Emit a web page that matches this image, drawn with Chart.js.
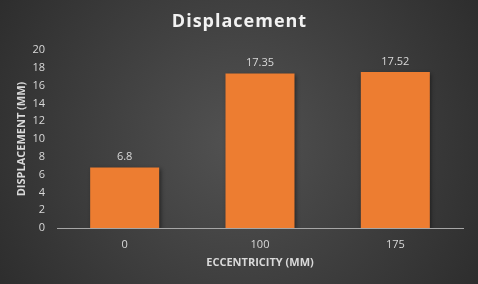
<!DOCTYPE html>
<html>
<head>
<meta charset="utf-8">
<script src="https://cdn.jsdelivr.net/npm/chart.js@4/dist/chart.umd.min.js"></script>
<style>
html,body{margin:0;padding:0;background:#404040;}
#wrap{width:478px;height:284px;position:relative;}
</style>
</head>
<body>
<div id="wrap"><canvas id="c" width="478" height="284"></canvas></div>
<script>
const categories = ['0', '100', '175'];
const displacement = [6.8, 17.35, 17.52];
const valueLabels = ['6.8', '17.35', '17.52'];
const chartTitle = 'Displacement';
const xTitle = 'ECCENTRICITY (MM)';
const yTitle = 'DISPLACEMENT (MM)';

const FONT = "'Open Sans', 'Noto Sans', sans-serif";

const bgPlugin = {
  id: 'bg',
  beforeDraw(chart) {
    const ctx = chart.ctx;
    const w = chart.width, h = chart.height;
    ctx.save();
    const g = ctx.createRadialGradient(w/2, h/2, 0, w/2, h/2, w*0.62);
    g.addColorStop(0, '#525252');
    g.addColorStop(1, '#2b2b2b');
    ctx.fillStyle = g;
    ctx.fillRect(0, 0, w, h);
    ctx.restore();
  },
  afterDraw(chart) {
    const ctx = chart.ctx;
    ctx.save();
    ctx.fillStyle = '#f2f2f2';
    ctx.font = "bold 18px " + FONT;
    try { ctx.letterSpacing = '1px'; } catch (e) {}
    ctx.textAlign = 'center';
    ctx.textBaseline = 'middle';
    ctx.fillText(chartTitle, chart.width / 2 + 0.5, 22);
    ctx.restore();
  }
};

const shadowPlugin = {
  id: 'barShadow',
  beforeDatasetsDraw(chart) {
    const ctx = chart.ctx;
    ctx.save();
    ctx.shadowColor = 'rgba(0,0,0,0.45)';
    ctx.shadowBlur = 4;
    ctx.shadowOffsetX = 1.5;
    ctx.shadowOffsetY = 1.5;
  },
  afterDatasetsDraw(chart) {
    chart.ctx.restore();
    const ctx = chart.ctx;
    const meta = chart.getDatasetMeta(0);
    ctx.save();
    ctx.fillStyle = '#d9d9d9';
    ctx.font = "11px " + FONT;
    ctx.textAlign = 'center';
    ctx.textBaseline = 'bottom';
    meta.data.forEach((bar, i) => {
      ctx.fillText(valueLabels[i], bar.x, bar.y - 5);
    });
    ctx.restore();
  }
};

new Chart(document.getElementById('c'), {
  type: 'bar',
  data: {
    labels: categories,
    datasets: [{
      data: displacement,
      backgroundColor: '#ED7D31',
      borderWidth: 0,
      categoryPercentage: 1,
      barPercentage: 0.51
    }]
  },
  options: {
    responsive: false,
    animation: false,
    devicePixelRatio: 1,
    layout: { padding: { left: 0, right: 15, top: 50, bottom: 0 } },
    plugins: {
      legend: { display: false },
      tooltip: { enabled: false },
      title: { display: false }
    },
    scales: {
      x: {
        grid: { display: false },
        border: { display: true, color: '#a6a6a6', width: 1 },
        ticks: { color: '#d9d9d9', font: { family: FONT, size: 11 }, padding: 2 },
        title: {
          display: true, text: xTitle, color: '#d9d9d9',
          font: { family: FONT, size: 11, weight: 'bold' },
          padding: { top: 0, bottom: 15 }
        },
        afterFit(s) { s.height = 56; }
      },
      y: {
        min: 0, max: 20,
        grid: { display: false },
        border: { display: false },
        ticks: { stepSize: 2, color: '#d9d9d9', font: { family: FONT, size: 11 }, padding: 4 },
        title: {
          display: true, text: yTitle, color: '#d9d9d9',
          font: { family: FONT, size: 11, weight: 'bold' },
          padding: { top: 15, bottom: 0 }
        },
        afterFit(s) { s.width = 57; }
      }
    }
  },
  plugins: [bgPlugin, shadowPlugin]
});
</script>
</body>
</html>
